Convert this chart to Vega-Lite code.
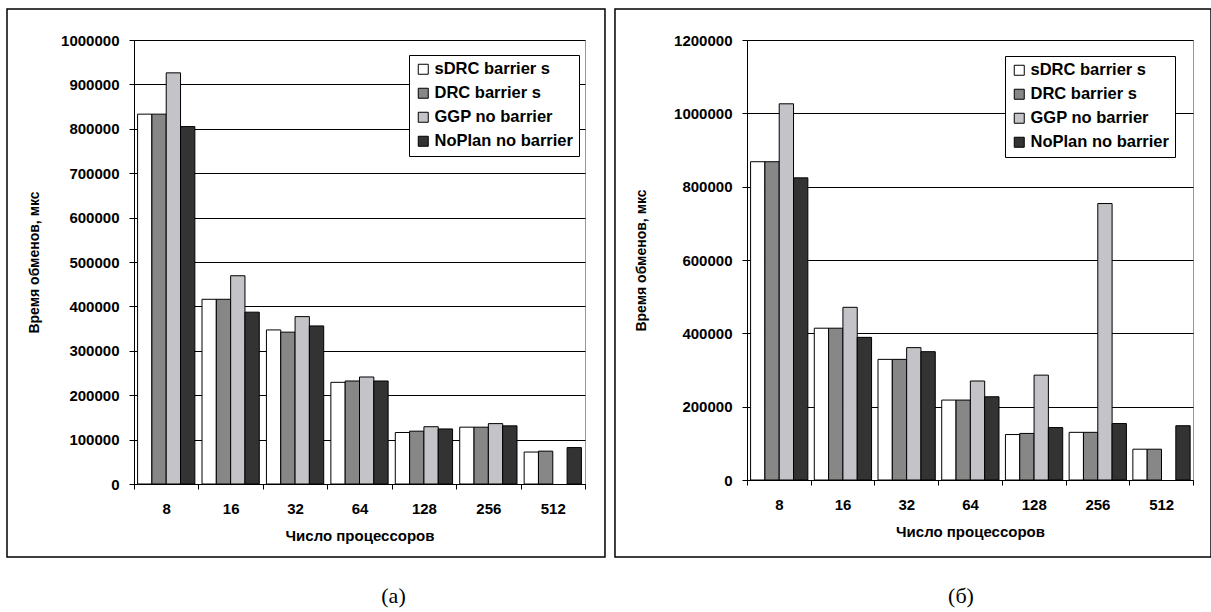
{
  "$schema": "https://vega.github.io/schema/vega-lite/v6.json",
  "padding": {"left": 5, "top": 7, "right": 0, "bottom": 0},
  "spacing": 6,
  "background": "white",
  "resolve": {"scale": {"fill": "independent"}, "legend": {"fill": "independent"}},
  "config": {
    "font": "Liberation Sans",
    "view": {"stroke": "#999999", "strokeWidth": 1},
    "bar": {"stroke": "black", "strokeWidth": 1},
    "axis": {
      "labelFont": "Liberation Sans",
      "labelFontSize": 15,
      "labelFontWeight": "bold",
      "labelColor": "black",
      "titleFont": "Liberation Sans",
      "titleFontSize": 14,
      "titleFontWeight": "bold",
      "titleColor": "black",
      "domainColor": "black",
      "tickColor": "black",
      "tickSize": 5,
      "gridColor": "black",
      "gridWidth": 1,
      "gridOpacity": 1
    },
    "legend": {
      "orient": "none",
      "direction": "vertical",
      "strokeColor": "black",
      "fillColor": "white",
      "padding": 6,
      "symbolType": "square",
      "symbolSize": 100,
      "symbolStrokeColor": "black",
      "symbolStrokeWidth": 1,
      "labelFont": "Liberation Sans",
      "labelFontSize": 16.5,
      "labelFontWeight": "bold",
      "labelColor": "black",
      "labelOffset": 3,
      "rowPadding": 7,
      "labelLimit": 300
    },
    "title": {"font": "Liberation Serif", "fontSize": 22, "fontWeight": "normal", "color": "black", "orient": "bottom", "anchor": "middle", "baseline": "top"}
  },
  "datasets": {
    "a": [
      {"procs": "8", "series": "sDRC barrier s", "time": 833000},
      {"procs": "8", "series": "DRC barrier s", "time": 833000},
      {"procs": "8", "series": "GGP no barrier", "time": 926000},
      {"procs": "8", "series": "NoPlan no barrier", "time": 805000},
      {"procs": "16", "series": "sDRC barrier s", "time": 416000},
      {"procs": "16", "series": "DRC barrier s", "time": 416000},
      {"procs": "16", "series": "GGP no barrier", "time": 469000},
      {"procs": "16", "series": "NoPlan no barrier", "time": 387000},
      {"procs": "32", "series": "sDRC barrier s", "time": 347000},
      {"procs": "32", "series": "DRC barrier s", "time": 342000},
      {"procs": "32", "series": "GGP no barrier", "time": 377000},
      {"procs": "32", "series": "NoPlan no barrier", "time": 356000},
      {"procs": "64", "series": "sDRC barrier s", "time": 229000},
      {"procs": "64", "series": "DRC barrier s", "time": 232000},
      {"procs": "64", "series": "GGP no barrier", "time": 241000},
      {"procs": "64", "series": "NoPlan no barrier", "time": 232000},
      {"procs": "128", "series": "sDRC barrier s", "time": 116000},
      {"procs": "128", "series": "DRC barrier s", "time": 119000},
      {"procs": "128", "series": "GGP no barrier", "time": 129000},
      {"procs": "128", "series": "NoPlan no barrier", "time": 124000},
      {"procs": "256", "series": "sDRC barrier s", "time": 128000},
      {"procs": "256", "series": "DRC barrier s", "time": 128000},
      {"procs": "256", "series": "GGP no barrier", "time": 136000},
      {"procs": "256", "series": "NoPlan no barrier", "time": 131000},
      {"procs": "512", "series": "sDRC barrier s", "time": 72000},
      {"procs": "512", "series": "DRC barrier s", "time": 74000},
      {"procs": "512", "series": "NoPlan no barrier", "time": 82000}
    ],
    "b": [
      {"procs": "8", "series": "sDRC barrier s", "time": 868000},
      {"procs": "8", "series": "DRC barrier s", "time": 868000},
      {"procs": "8", "series": "GGP no barrier", "time": 1026000},
      {"procs": "8", "series": "NoPlan no barrier", "time": 824000},
      {"procs": "16", "series": "sDRC barrier s", "time": 414000},
      {"procs": "16", "series": "DRC barrier s", "time": 414000},
      {"procs": "16", "series": "GGP no barrier", "time": 471000},
      {"procs": "16", "series": "NoPlan no barrier", "time": 389000},
      {"procs": "32", "series": "sDRC barrier s", "time": 329000},
      {"procs": "32", "series": "DRC barrier s", "time": 329000},
      {"procs": "32", "series": "GGP no barrier", "time": 361000},
      {"procs": "32", "series": "NoPlan no barrier", "time": 350000},
      {"procs": "64", "series": "sDRC barrier s", "time": 218000},
      {"procs": "64", "series": "DRC barrier s", "time": 218000},
      {"procs": "64", "series": "GGP no barrier", "time": 270000},
      {"procs": "64", "series": "NoPlan no barrier", "time": 227000},
      {"procs": "128", "series": "sDRC barrier s", "time": 124000},
      {"procs": "128", "series": "DRC barrier s", "time": 127000},
      {"procs": "128", "series": "GGP no barrier", "time": 286000},
      {"procs": "128", "series": "NoPlan no barrier", "time": 143000},
      {"procs": "256", "series": "sDRC barrier s", "time": 130000},
      {"procs": "256", "series": "DRC barrier s", "time": 130000},
      {"procs": "256", "series": "GGP no barrier", "time": 754000},
      {"procs": "256", "series": "NoPlan no barrier", "time": 154000},
      {"procs": "512", "series": "sDRC barrier s", "time": 84000},
      {"procs": "512", "series": "DRC barrier s", "time": 84000},
      {"procs": "512", "series": "NoPlan no barrier", "time": 148000}
    ]
  },
  "hconcat": [
    {
      "width": 451,
      "height": 444,
      "title": {"text": "(a)", "dx": 34, "offset": 28},
      "layer": [
        {
          "data": {"values": [{}]},
          "mark": {"type": "rect", "fill": null, "stroke": "black", "strokeWidth": 1.5},
          "encoding": {
            "x": {"datum": -0.2816, "type": "quantitative", "scale": {"domain": [0, 1], "nice": false, "zero": false}, "axis": null},
            "x2": {"datum": 1.0443},
            "y": {"datum": -0.1644, "type": "quantitative", "scale": {"domain": [0, 1], "nice": false, "zero": false}, "axis": null},
            "y2": {"datum": 1.0698}
          }
        },
        {
          "data": {"name": "a"},
          "mark": {"type": "bar"},
          "encoding": {
            "x": {"field": "procs", "type": "nominal", "sort": ["8", "16", "32", "64", "128", "256", "512"],
                  "scale": {"paddingInner": 0, "paddingOuter": 0},
                  "axis": {"title": "Число процессоров", "labelAngle": 0, "tickBand": "extent", "labelPadding": 12, "titlePadding": 12, "titleFontSize": 15}},
            "xOffset": {"field": "series", "type": "nominal",
                  "scale": {"domain": ["sDRC barrier s", "DRC barrier s", "GGP no barrier", "NoPlan no barrier"], "paddingInner": 0, "paddingOuter": 0.25}},
            "y": {"field": "time", "type": "quantitative",
                  "scale": {"domain": [0, 1000000], "nice": false},
                  "axis": {"title": "Время обменов, мкс", "values": [0, 100000, 200000, 300000, 400000, 500000, 600000, 700000, 800000, 900000, 1000000], "format": "d", "labelPadding": 10, "titlePadding": 19, "grid": true}},
            "fill": {"field": "series", "type": "nominal",
                  "scale": {"domain": ["sDRC barrier s", "DRC barrier s", "GGP no barrier", "NoPlan no barrier"], "range": ["#ffffff", "#878787", "#c4c4c8", "#333333"]},
                  "legend": {"title": null, "legendX": 275, "legendY": 15}}
          }
        }
      ],
      "resolve": {"scale": {"x": "independent", "y": "independent"}}
    },
    {
      "width": 446,
      "height": 440,
      "title": {"text": "(б)", "dx": -9, "offset": 28},
      "layer": [
        {
          "data": {"values": [{}]},
          "mark": {"type": "rect", "fill": null, "stroke": "black", "strokeWidth": 1.5},
          "encoding": {
            "x": {"datum": -0.296, "type": "quantitative", "scale": {"domain": [0, 1], "nice": false, "zero": false}, "axis": null},
            "x2": {"datum": 1.0404},
            "y": {"datum": -0.175, "type": "quantitative", "scale": {"domain": [0, 1], "nice": false, "zero": false}, "axis": null},
            "y2": {"datum": 1.0705}
          }
        },
        {
          "data": {"name": "b"},
          "mark": {"type": "bar"},
          "encoding": {
            "x": {"field": "procs", "type": "nominal", "sort": ["8", "16", "32", "64", "128", "256", "512"],
                  "scale": {"paddingInner": 0, "paddingOuter": 0},
                  "axis": {"title": "Число процессоров", "labelAngle": 0, "tickBand": "extent", "labelPadding": 12, "titlePadding": 12, "titleFontSize": 15}},
            "xOffset": {"field": "series", "type": "nominal",
                  "scale": {"domain": ["sDRC barrier s", "DRC barrier s", "GGP no barrier", "NoPlan no barrier"], "paddingInner": 0, "paddingOuter": 0.25}},
            "y": {"field": "time", "type": "quantitative",
                  "scale": {"domain": [0, 1200000], "nice": false},
                  "axis": {"title": "Время обменов, мкс", "values": [0, 200000, 400000, 600000, 800000, 1000000, 1200000], "format": "d", "labelPadding": 10, "titlePadding": 25, "grid": true}},
            "fill": {"field": "series", "type": "nominal",
                  "scale": {"domain": ["sDRC barrier s", "DRC barrier s", "GGP no barrier", "NoPlan no barrier"], "range": ["#ffffff", "#878787", "#c4c4c8", "#333333"]},
                  "legend": {"title": null, "legendX": 258, "legendY": 16}}
          }
        }
      ],
      "resolve": {"scale": {"x": "independent", "y": "independent"}}
    }
  ]
}
